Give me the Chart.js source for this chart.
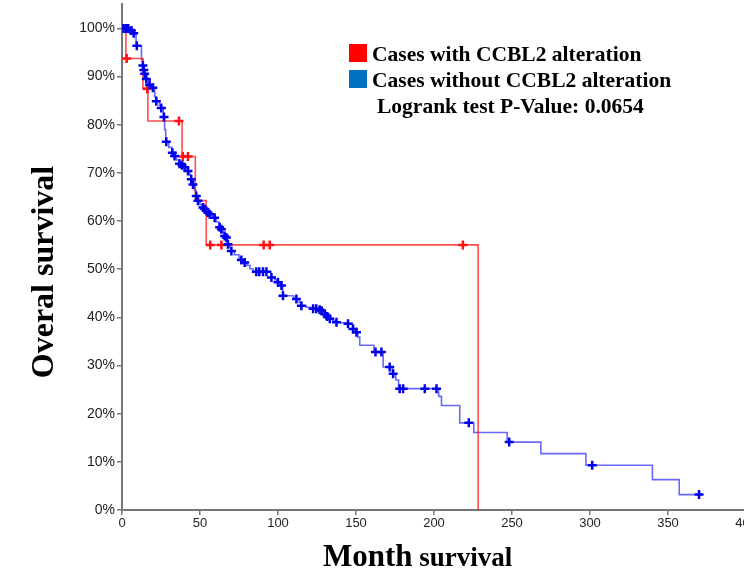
<!DOCTYPE html>
<html>
<head>
<meta charset="utf-8">
<script src="https://cdn.jsdelivr.net/npm/chart.js@4.4.1/dist/chart.umd.min.js"></script>
<style>
  html, body { margin: 0; padding: 0; background: #fff; overflow: hidden; }
  #wrap { position: relative; width: 760px; height: 589px; margin-top: -6px; }
</style>
</head>
<body>
<div id="wrap"><canvas id="km"></canvas></div>
<script>
// Kaplan-Meier steps: months and overall survival (%)
const alteredMonths   = [0, 2.5, 13.4, 16.6, 38.5, 47, 54, 228.3];
const alteredSurvival = [100, 93.75, 87.5, 80.77, 73.4, 64.25, 55.05, 0];
const alteredCensorMonths   = [3, 16.2, 36.5, 39, 42.3, 56.6, 63.7, 90.8, 94.7, 218.5];
const alteredCensorSurvival = [93.75, 87.5, 80.77, 73.4, 73.4, 55.05, 55.05, 55.05, 55.05, 55.05];

const unalteredMonths = [0, 5.5, 7, 9, 12.5, 13.2, 13.8, 14.3, 15.2, 17, 19, 21, 21.8, 24, 25, 26.5, 27.3, 28,
  30, 32, 33.5, 35, 36.5, 38.3, 40, 42, 43.5, 44.2, 45.2, 46.5, 47.3, 48.4, 50, 51.5, 52.8, 54.5, 56, 58,
  59.2, 60.5, 62.3, 63.5, 64.5, 65.5, 66.7, 67.6, 68.7, 69.8, 72, 75, 76.3, 78.3, 80, 82, 84, 95.5, 98,
  99.5, 101.5, 103, 110, 111.5, 113.5, 114.7, 118, 121, 126.5, 127.8, 129.5, 131.2, 133, 135, 137.2, 140,
  144.5, 147.8, 150, 151.2, 152.4, 161.5, 167.4, 173.3, 175.5, 177.3, 203, 204.8, 216.5, 225.5, 246.9,
  268.5, 297.4, 340, 357.2, 370];
const unalteredSurvival = [100, 99.6, 99, 96.4, 93.5, 92.3, 91.4, 90.6, 89.5, 88.3, 87.7, 85.8, 84.9, 84, 83.5,
  81.6, 79, 76.5, 75.3, 74.2, 73.5, 72.7, 71.9, 71.6, 71.2, 70.4, 69.5, 68.7, 67.6, 66.4, 65.2, 64.2, 63.4,
  62.8, 62.5, 61.8, 61.4, 61, 60.7, 59.8, 58.7, 58.3, 57.6, 56.9, 56.6, 55.2, 54.5, 53.8, 53, 52.3, 51.9,
  51.4, 50.8, 50.1, 49.5, 48.3, 47.8, 47.3, 46.6, 44.5, 44.1, 43.8, 43.1, 42.4, 42.1, 41.8, 41.6, 41.4, 40.7,
  40.2, 39.7, 39.3, 39, 38.9, 38.7, 37.6, 36.9, 35.9, 34.2, 32.8, 29.7, 28.3, 27, 25.2, 23.6, 21.7, 18.1,
  16.1, 14.1, 11.7, 9.3, 6.3, 3.2, 3.2];
const unalteredCensorMonths = [1, 2.5, 4, 6, 7.5, 9.5, 13.4, 14, 14.5, 15.6, 17.7, 19.8, 22, 25.2, 26.9, 28.4,
  32.3, 33.7, 36.9, 38.5, 40.2, 42.3, 44.4, 45.5, 47.6, 48.7, 51.9, 53, 55.1, 56.2, 59.4, 62.6, 63.7, 65.8,
  66.9, 67.9, 70.1, 76.5, 78.6, 86.1, 88, 90.4, 92.6, 95.8, 100, 102.2, 103.2, 111.8, 115, 122.5, 124.5,
  126.7, 128, 130, 131.5, 133.2, 137.5, 144.9, 148.1, 150.3, 162.5, 166.3, 171.6, 173.8, 178, 180.2, 194.1,
  201.6, 222.3, 248.2, 301.4, 369.9];
const unalteredCensorSurvival = [100, 100, 100, 99.6, 99, 96.4, 92.3, 91.4, 90.6, 89.5, 88.3, 87.7, 84.9, 83.5,
  81.6, 76.5, 74.2, 73.5, 71.9, 71.6, 71.2, 70.4, 68.7, 67.6, 65.2, 64.2, 62.8, 62.5, 61.8, 61.4, 60.7, 58.7,
  58.3, 56.9, 56.6, 55.2, 53.8, 51.9, 51.4, 49.5, 49.5, 49.5, 49.5, 48.3, 47.3, 46.6, 44.5, 43.8, 42.4, 41.8,
  41.8, 41.6, 41.4, 40.7, 40.2, 39.7, 39, 38.7, 37.6, 36.9, 32.8, 32.8, 29.7, 28.3, 25.2, 25.2, 25.2, 25.2,
  18.1, 14.1, 9.3, 3.2];

const xTicks = [0, 50, 100, 150, 200, 250, 300, 350, 400];
const yTicks = [0, 10, 20, 30, 40, 50, 60, 70, 80, 90, 100];

const legendItems = [
  { label: 'Cases with CCBL2 alteration', color: '#ff0000' },
  { label: 'Cases without CCBL2 alteration', color: '#0070c0' }
];
const pValueText = 'Logrank test P-Value: 0.0654';

const pairs = (xs, ys) => xs.map((x, i) => ({ x: x, y: ys[i] }));

const titlesPlugin = {
  id: 'titles',
  afterDraw(chart) {
    const ctx = chart.ctx;
    ctx.save();
    ctx.translate(0, 6); // canvas is shifted up 6px in the page
    ctx.fillStyle = '#000';
    ctx.textBaseline = 'alphabetic';

    // legend boxes + labels
    ctx.font = 'bold 21.5px "Liberation Serif", "Times New Roman", serif';
    legendItems.forEach((item, i) => {
      const top = 44 + i * 26;
      ctx.fillStyle = item.color;
      ctx.fillRect(349, top, 18, 18);
      ctx.fillStyle = '#000';
      ctx.fillText(item.label, 372, top + 17);
    });
    ctx.fillText(pValueText, 377, 113);

    // x title: big "Month" + smaller "survival"
    ctx.font = 'bold 31px "Liberation Serif", "Times New Roman", serif';
    ctx.fillText('Month', 323, 566);
    const w = ctx.measureText('Month ').width;
    ctx.font = 'bold 27px "Liberation Serif", "Times New Roman", serif';
    ctx.fillText('survival', 323 + w - 1, 566);

    // y title
    ctx.translate(53, 272);
    ctx.rotate(-Math.PI / 2);
    ctx.textAlign = 'center';
    ctx.font = 'bold 32px "Liberation Serif", "Times New Roman", serif';
    ctx.fillText('Overal survival', 0, 0);
    ctx.restore();
  }
};

const censorStyle = { showLine: false, pointStyle: 'cross', pointRadius: 4.5, pointBorderWidth: 2.5 };

new Chart(document.getElementById('km'), {
  type: 'line',
  data: {
    datasets: [
      Object.assign({ data: pairs(unalteredCensorMonths, unalteredCensorSurvival), borderColor: '#0000ee', backgroundColor: '#0000ee' }, censorStyle),
      Object.assign({ data: pairs(alteredCensorMonths, alteredCensorSurvival), borderColor: '#ff1010', backgroundColor: '#ff1010' }, censorStyle),
      { data: pairs(alteredMonths, alteredSurvival), stepped: true, borderColor: 'rgba(255,0,0,0.7)', borderWidth: 1.6, pointRadius: 0, fill: false },
      { data: pairs(unalteredMonths, unalteredSurvival), stepped: true, borderColor: 'rgba(40,40,255,0.7)', borderWidth: 1.6, pointRadius: 0, fill: false }
    ]
  },
  options: {
    responsive: true,
    maintainAspectRatio: false,
    animation: false,
    events: [],
    layout: { padding: { left: 0, top: 0, right: 14, bottom: 0 } },
    plugins: { legend: { display: false }, tooltip: { enabled: false } },
    scales: {
      x: {
        type: 'linear', min: 0, max: 400,
        afterBuildTicks: (s) => { s.ticks = xTicks.map(v => ({ value: v })); },
        afterFit: (s) => { s.height = 73; },
        ticks: { color: '#222', font: { family: '"Liberation Sans", Arial, sans-serif', size: 13 }, padding: 1, maxRotation: 0 },
        grid: { drawOnChartArea: false, drawTicks: true, tickLength: 5, color: '#777', lineWidth: 1.5 },
        border: { color: '#777', width: 2 }
      },
      y: {
        type: 'linear', min: 0, max: 105,
        afterBuildTicks: (s) => { s.ticks = yTicks.map(v => ({ value: v })); },
        afterFit: (s) => { s.width = 122; },
        ticks: { color: '#222', font: { family: '"Liberation Sans", Arial, sans-serif', size: 14 }, padding: 2, callback: v => v + '%' },
        grid: { drawOnChartArea: false, drawTicks: true, tickLength: 5, color: '#777', lineWidth: 1.5 },
        border: { color: '#777', width: 2 }
      }
    }
  },
  plugins: [titlesPlugin]
});
</script>
</body>
</html>
